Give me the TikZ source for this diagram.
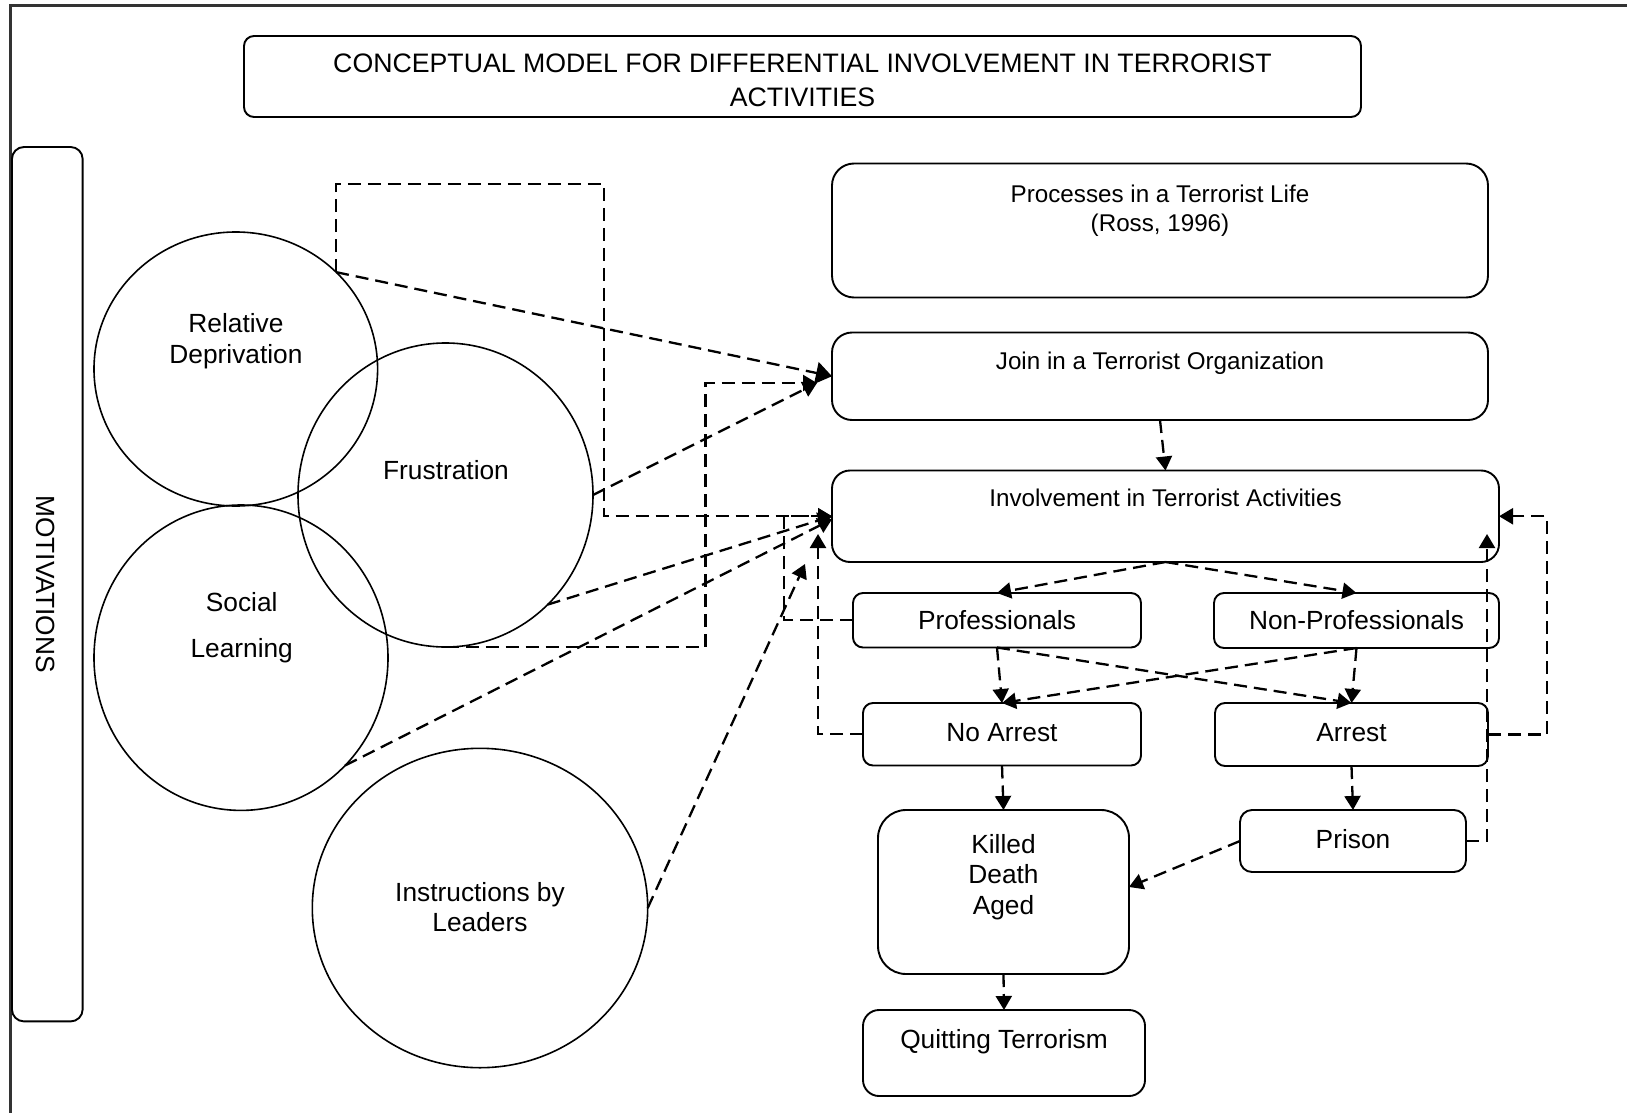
\documentclass[tikz,border=0pt]{standalone}
\usepackage{fontspec}
\setmainfont{Liberation Sans}
\usetikzlibrary{arrows.meta,shapes.geometric}
\begin{document}
\begin{tikzpicture}[x=0.5pt,y=-0.5pt,
  box/.style={draw, line width=0.95pt, inner sep=0pt, outer sep=0pt},
  circ/.style={draw, ellipse, line width=0.8pt, inner sep=0pt, outer sep=0pt},
  txt/.style={font=\fontsize{13.15}{15}\selectfont, inner sep=0pt, anchor=base},
  smalltxt/.style={txt, font=\fontsize{12.1}{14}\selectfont},
  titletxt/.style={txt, font=\fontsize{13.35}{15}\selectfont},
  link/.style={line width=1.15pt, dash pattern=on 6.5pt off 3.5pt},
  conn/.style={link, -{Triangle[length=7pt,width=8pt]}},
  bigconn/.style={link, -{Triangle[length=8pt,width=11pt]}}
]
\useasboundingbox (0,0) rectangle (1627,1113);
% frame
\draw[line width=1.5pt, black!80] (10.5,1113) -- (10.5,6) -- (1627,6);

% title
\node[box, rounded corners=5pt, minimum width=558.5pt, minimum height=40.5pt] (title) at (802.5,76.5) {};
\node[titletxt] (title1) at (802.5,73) {CONCEPTUAL MODEL FOR DIFFERENTIAL INVOLVEMENT IN TERRORIST};
\node[titletxt] (title2) at (802.5,106) {ACTIVITIES};

% motivations
\node[box, rounded corners=6pt, minimum width=35.35pt, minimum height=437.2pt] (motiv) at (47.3,584.2) {};
\node[font=\fontsize{13.15}{15}\selectfont, inner sep=0pt, rotate=-90] (motivtxt) at (46,584) {MOTIVATIONS};

% circles
\node[circ, minimum width=141.8pt, minimum height=137pt] (reldep) at (235.8,369) {};
\node[circ, minimum width=147.5pt, minimum height=152pt] (frust) at (445.5,495) {};
\node[circ, minimum width=147pt, minimum height=152.7pt] (social) at (241,657.7) {};
\node[circ, minimum width=167.7pt, minimum height=159.7pt] (instr) at (480,908) {};
\node[txt] (reldep1) at (236,332.5) {Relative};
\node[txt] (reldep2) at (236,363.5) {Deprivation};
\node[txt] (frusttxt) at (446,479.5) {Frustration};
\node[txt] (social1) at (241.7,611) {Social};
\node[txt] (social2) at (241.7,657.5) {Learning};
\node[txt] (instr1) at (480,901.5) {Instructions by};
\node[txt] (instr2) at (480,931.5) {Leaders};

% process boxes
\node[box, rounded corners=11pt, minimum width=328pt, minimum height=67pt] (proc) at (1160,230.5) {};
\node[smalltxt] (proc1) at (1160,202.5) {Processes in a Terrorist Life};
\node[smalltxt] (proc2) at (1160,231) {(Ross, 1996)};
\node[box, rounded corners=10pt, minimum width=328pt, minimum height=43.75pt] (join) at (1160,376.25) {};
\node[smalltxt] (jointxt) at (1160,369.5) {Join in a Terrorist Organization};
\node[box, rounded corners=9pt, minimum width=333.5pt, minimum height=45.75pt] (inv) at (1165.5,516.25) {};
\node[smalltxt] (invtxt) at (1165.5,506.5) {Involvement in Terrorist Activities};
\node[box, rounded corners=5pt, minimum width=144pt, minimum height=27.25pt] (prof) at (997,620.25) {};
\node[txt] (proftxt) at (997,629.5) {Professionals};
\node[box, rounded corners=5pt, minimum width=142.5pt, minimum height=27.5pt] (nonprof) at (1356.5,620.5) {};
\node[txt] (nonproftxt) at (1356.5,629.5) {Non-Professionals};
\node[box, rounded corners=5pt, minimum width=139pt, minimum height=31.25pt] (noarrest) at (1002,734.25) {};
\node[txt] (noarresttxt) at (1002,741.5) {No Arrest};
\node[box, rounded corners=5pt, minimum width=136.5pt, minimum height=31.5pt] (arrest) at (1351.5,734.5) {};
\node[txt] (arresttxt) at (1351.5,741.5) {Arrest};
\node[box, rounded corners=6pt, minimum width=113pt, minimum height=31pt] (prison) at (1353,841) {};
\node[txt] (prisontxt) at (1353,848.5) {Prison};
\node[box, rounded corners=14pt, minimum width=125.5pt, minimum height=82pt] (killed) at (1003.5,892) {};
\node[txt] (killed1) at (1003.5,853) {Killed};
\node[txt] (killed2) at (1003.5,883.5) {Death};
\node[txt] (killed3) at (1003.5,914.5) {Aged};
\node[box, rounded corners=8pt, minimum width=141pt, minimum height=43pt] (quit) at (1004,1053) {};
\node[txt] (quittxt) at (1004,1048.3) {Quitting Terrorism};

% helper coordinates
\coordinate (rc) at (604,184);
\coordinate (jin) at (817,383);
\coordinate (fcorner) at (705.4,383);
\coordinate (iend) at (805,564);
\coordinate (pcorner) at (784,516.25);
\coordinate (naend) at (818,534);
\coordinate (prend) at (1487,534);
\coordinate (acorner) at (1547,516.25);

% connectors from motivations
\draw[conn] (reldep.44) |- (rc) -- (rc |- inv.west) -- (inv.west);
\draw[bigconn] (reldep.44) -- (join.west);
\draw[conn] (frust.south) -| (fcorner) -- (jin);
\draw[conn] (frust.east) -- (jin);
\draw[conn] (frust.-47) -- (inv.west);
\draw[conn] (social.-46) -- ([yshift=-1.5pt]inv.west);
\draw[conn] (instr.east) -- (iend);

% process flow
\draw[conn] (join.south) -- (inv.north);
\draw[conn] (inv.south) -- (prof.north);
\draw[conn] (inv.south) -- (nonprof.north);
\draw[conn] (prof.south) -- (noarrest.north);
\draw[conn] (prof.south) -- (arrest.north);
\draw[conn] (nonprof.south) -- (noarrest.north);
\draw[conn] (nonprof.south) -- (arrest.north);
\draw[conn] (noarrest.south) -- (killed.north);
\draw[conn] (arrest.south) -- (prison.north);
\draw[conn] (killed.south) -- (quit.north);
\draw[conn] (prison.west) -- ([yshift=2.5pt]killed.east);

% feedback loops
\draw[conn] (prof.west) -| (pcorner) -- (inv.west);
\draw[conn] (noarrest.west) -| (naend);
\draw[conn] (prison.east) -| (prend);
\draw[conn] (arrest.east) -| (acorner) -- (inv.east);
\end{tikzpicture}
\end{document}
